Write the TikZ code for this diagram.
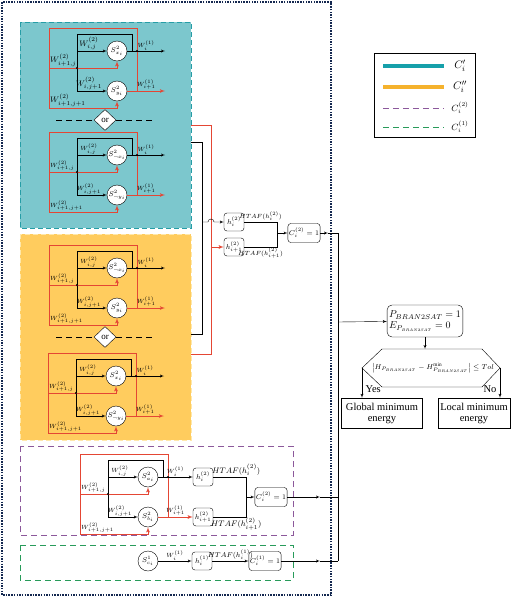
\documentclass[tikz,border=0pt]{standalone}
\usepackage{amsmath}
\usepackage{amssymb}
\usepackage{fontspec}
\setmainfont{Liberation Serif}
\usetikzlibrary{positioning}
\usetikzlibrary{calc}
\usetikzlibrary{arrows}
\usetikzlibrary{shapes.geometric}
\definecolor{cyanfill}{RGB}{124,199,205}
\definecolor{cyanedge}{RGB}{38,157,166}
\definecolor{yellowfill}{RGB}{255,204,94}
\definecolor{yellowedge}{RGB}{255,232,170}
\definecolor{linered}{RGB}{228,70,52}
\definecolor{legcyan}{RGB}{22,160,170}
\definecolor{legyellow}{RGB}{245,178,45}
\definecolor{purpleedge}{RGB}{140,88,155}
\definecolor{greenedge}{RGB}{40,155,90}
\definecolor{navy}{RGB}{20,40,80}
\tikzset{>=latex'}
\tikzset{snode/.style={draw,circle,minimum size=20pt,inner sep=0pt,fill=white,font=\fontsize{7}{8}\selectfont}}
\tikzset{hbox/.style={draw,rounded corners=3pt,minimum width=20pt,minimum height=18pt,inner sep=1pt,fill=white,font=\fontsize{7}{8}\selectfont}}
\tikzset{cbox/.style={draw,rounded corners=3pt,minimum width=29pt,minimum height=19pt,inner sep=1pt,fill=white,font=\fontsize{7}{8}\selectfont}}
\tikzset{wlab/.style={inner sep=0.8pt,font=\fontsize{6}{7}\selectfont}}
\tikzset{wbig/.style={inner sep=0.8pt,font=\fontsize{8}{9}\selectfont}}
\tikzset{htaf/.style={inner sep=1pt,font=\fontsize{6}{7}\selectfont}}
\tikzset{htafbig/.style={inner sep=1pt,font=\fontsize{8}{9}\selectfont}}
\tikzset{redline/.style={draw=linered,line width=0.8pt}}
\tikzset{jdot/.style={circle,fill,inner sep=0pt,minimum size=2.4pt}}
\tikzset{ornode/.style={draw,diamond,fill=white,inner sep=0pt,minimum width=22pt,minimum height=21pt,font=\fontsize{9}{10}\selectfont}}
\tikzset{endbox/.style={draw,align=center,minimum height=30pt,inner sep=1pt,font=\fontsize{10.5}{11}\selectfont}}
\newcommand{\bsat}{\scalebox{0.75}{$\scriptscriptstyle BRAN2SAT$}}

% one pair of clause neurons with its weights
\newcommand{\wblock}[6]{%
  \node[snode] (#1x) at (#2,#3) {$S^2_{#4}$};
  \node[snode] (#1y) at (#2,#3+40) {$S^2_{#5}$};
  \coordinate (#1bt) at (#2-40,#3-17);
  \coordinate (#1bx) at (#2-40,#3);
  \coordinate (#1by) at (#2-40,#3+40);
  \coordinate (#1bs) at (#2+15,#3-17);
  \coordinate (#1bo) at (#2+15,#3);
  \coordinate (#1bc) at (#2-40,#3+17);
  \coordinate (#1rt) at (#2-68,#3-23);
  \coordinate (#1rs) at (#2+20,#3-23);
  \coordinate (#1rc) at (#2+20,#3);
  \coordinate (#1ro) at (#2+20,#3+40);
  \coordinate (#1rm) at (#2-68,#3+17);
  \coordinate (#1rb) at (#2-68,#3+57);
  \coordinate (#1ox) at (#2+48,#3);
  \coordinate (#1oy) at (#2+48,#3+40);
  \draw (#1bo) -- (#1bs) -- (#1bt) -- (#1by);
  \draw[->] (#1bx) -- node[#6,above,pos=0.4] {$W^{(2)}_{i,j}$} (#1x);
  \draw[->] (#1by) -- node[#6,above,pos=0.4] {$W^{(2)}_{i,j+1}$} (#1y);
  \draw[redline] (#1ro) -- (#1rs) -- (#1rt) -- (#1rb);
  \draw[redline,->] (#1rm) node[#6,above right] {$W^{(2)}_{i+1,j}$} -| (#1x.south);
  \draw[redline,->] (#1rb) node[#6,above right] {$W^{(2)}_{i+1,j+1}$} -| (#1y.south);
  \node[jdot] (#1d1) at (#1bc) {};
  \node[jdot] (#1d2) at (#1rc) {};
}

\begin{document}
\begin{tikzpicture}[x=1pt,y=-1pt]
\useasboundingbox (0,0) rectangle (520,597);

% frames
\draw[navy,line width=1.1pt,dash pattern=on 1.5pt off 1.2pt] (2,2) rectangle (331,595);
\draw[cyanedge,fill=cyanfill,line width=1pt,dash pattern=on 5pt off 3pt] (20,22) rectangle (191,228);
\draw[yellowedge,fill=yellowfill,line width=1pt,dash pattern=on 5pt off 3pt] (20,234) rectangle (191,440);
\draw[purpleedge,line width=1pt,dash pattern=on 6pt off 4pt] (20,446) rectangle (293,535);
\draw[greenedge,line width=1pt,dash pattern=on 6pt off 4pt] (20,545) rectangle (293,580);

% C_i' and C_i''
\wblock{A}{117}{51}{x_i}{y_i}{wbig}
\wblock{B}{117}{155}{\neg x_i}{\neg y_i}{wlab}
\wblock{C}{117}{268}{\neg x_i}{y_i}{wlab}
\wblock{D}{116}{376}{x_i}{\neg y_i}{wlab}
\draw[->] (Ax) -- node[wlab,above] {$W^{(1)}_i$} (Aox);
\draw[redline,->] (Ay) -- node[wlab,above] {$W^{(1)}_{i+1}$} (Aoy);
\draw[->] (Bx) -- node[wlab,above] {$W^{(1)}_i$} (Box);
\draw[redline,->] (By) -- node[wlab,above] {$W^{(1)}_{i+1}$} (Boy);
\draw[->] (Cx) -- node[wlab,above] {$W^{(1)}_i$} (Cox);
\draw[redline,->] (Cy) -- node[wlab,above] {$W^{(1)}_{i+1}$} (Coy);
\draw[->] (Dx) -- node[wlab,above] {$W^{(1)}_i$} (Dox);
\draw[redline,->] (Dy) -- node[wlab,above] {$W^{(1)}_{i+1}$} (Doy);

\node[ornode] (orA) at (105,120) {or};
\coordinate (orAl) at (56,120);
\coordinate (orAr) at (152,120);
\draw[dash pattern=on 6pt off 4pt,line width=0.8pt] (orAl) -- (orA);
\draw[dash pattern=on 6pt off 4pt,line width=0.8pt] (orA) -- (orAr);
\node[ornode] (orB) at (105,337) {or};
\coordinate (orBl) at (56,337);
\coordinate (orBr) at (152,337);
\draw[dash pattern=on 6pt off 4pt,line width=0.8pt] (orBl) -- (orB);
\draw[dash pattern=on 6pt off 4pt,line width=0.8pt] (orB) -- (orBr);

% hidden layer of C_i' and C_i''
\coordinate (cbk) at (191,142);
\coordinate (crd) at (191,125);
\coordinate (ybk) at (191,334);
\coordinate (yrd) at (191,354);
\coordinate (bj) at (202,222);
\coordinate (rj) at (211,247);
\node[hbox] (hA) at (234,222) {$h^{(2)}_i$};
\node[hbox] (hB) at (234,247) {$h^{(2)}_{i+1}$};
\draw (cbk) -| (bj);
\draw (ybk) -| (bj);
\draw[redline] (crd) -| (rj);
\draw[redline] (yrd) -| (rj);
\draw[->] (bj) -- ++(6,0) arc[start angle=180,end angle=0,radius=3pt] -- (hA);
\draw[redline,->] (rj) -- (hB);
\coordinate (hjA) at (277,233);
\draw (hA) -| node[htaf,pos=0.25,above] {$HTAF(h^{(2)}_i)$} (hjA);
\draw (hB) -| node[htaf,pos=0.25,below] {$HTAF(h^{(2)}_{i+1})$} (hjA);
\node[cbox] (cA) at (304,233) {$C^{(2)}_i=1$};
\draw[->] (hjA) -- (cA);

% C_i^(2)
\wblock{E}{148}{477}{a_i}{b_i}{wlab}
\node[hbox] (hE) at (203,477) {$h^{(2)}_i$};
\node[hbox] (hF) at (203,517) {$h^{(2)}_{i+1}$};
\draw[->] (Ex) -- node[wlab,above] {$W^{(1)}_i$} (hE);
\draw[redline,->] (Ey) -- node[wlab,above] {$W^{(1)}_{i+1}$} (hF);
\coordinate (hjE) at (246,497);
\draw (hE) -| node[htafbig,pos=0.35,above] {$HTAF(h^{(2)}_i)$} (hjE);
\draw (hF) -| node[htafbig,pos=0.35,below] {$HTAF(h^{(2)}_{i+1})$} (hjE);
\node[cbox] (cE) at (271,497) {$C^{(2)}_i=1$};
\draw[->] (hjE) -- (cE);

% C_i^(1)
\node[snode] (sG) at (148,561) {$S^1_{c_i}$};
\node[hbox] (hG) at (202,561) {$h^{(1)}_i$};
\node[cbox] (cG) at (265,561) {$C^{(1)}_i=1$};
\draw[->] (sG) -- node[wlab,above] {$W^{(1)}_i$} (hG);
\draw[->] (hG) -- node[htaf,above,font=\fontsize{7}{8}\selectfont] {$HTAF(h^{(1)}_i)$} (cG);

% collecting line
\coordinate (busA) at (338,233);
\coordinate (busP) at (338,322);
\coordinate (busE) at (338,497);
\coordinate (busG) at (338,561);
\coordinate (cAm) at (328,233);
\coordinate (cEm) at (320,497);
\coordinate (cGm) at (320,561);
\draw[->] (cA) -- (cAm);
\draw (cAm) -- (busA);
\draw[->] (cE) -- (cEm);
\draw (cEm) -- (busE);
\draw[->] (cG) -- (cGm);
\draw (cGm) -- (busG);
\draw (busA) -- (busG);

% energy check
\node[draw,rounded corners=5pt,align=left,minimum width=73pt,minimum height=32pt,inner sep=2pt,font=\fontsize{10}{11}\selectfont] (pn) at (425,321) {$P_{BRAN2SAT}=1$\\$E_{P_{\bsat}}=0$};
\draw[->] (busP) -- (pn);
\coordinate (hxt) at (425,349);
\coordinate (hxl) at (362,368);
\coordinate (hxr) at (500,368);
\draw (382,349) -- (482,349) -- (hxr) -- (482,387) -- (382,387) -- (hxl) -- cycle;
\node[inner sep=0pt,font=\fontsize{7.5}{9}\selectfont] (dec) at (433,368) {$\bigl|H_{P_{\bsat}}-H^{\min}_{P_{\bsat}}\bigr|\le Tol$};
\draw[->] (pn) -- (hxt);
\node[endbox,minimum width=81pt] (gb) at (382,413) {Global minimum\\energy};
\node[endbox,minimum width=72pt] (lb) at (474,413) {Local minimum\\energy};
\draw[->] (hxl) -- node[right,pos=0.72,font=\fontsize{10.5}{11}\selectfont] {Yes} (hxl |- gb.north);
\draw[->] (hxr) -- node[left,pos=0.72,font=\fontsize{10.5}{11}\selectfont] {No} (hxr |- lb.north);

% legend
\draw[line width=0.8pt] (374,53) rectangle (475,137);
\draw[legcyan,line width=4pt] (383,66) -- (444,66);
\draw[legyellow,line width=4pt] (383,87) -- (444,87);
\draw[purpleedge,line width=0.9pt,dash pattern=on 6pt off 4pt] (383,108) -- (444,108);
\draw[greenedge,line width=0.9pt,dash pattern=on 6pt off 4pt] (383,127) -- (444,127);
\node[font=\fontsize{11}{12}\selectfont] (lgA) at (460,66) {$C'_i$};
\node[font=\fontsize{11}{12}\selectfont] (lgB) at (460,87) {$C''_i$};
\node[font=\fontsize{9}{10}\selectfont] (lgC) at (460,108) {$C^{(2)}_i$};
\node[font=\fontsize{9}{10}\selectfont] (lgD) at (460,127) {$C^{(1)}_i$};

\end{tikzpicture}
\end{document}
